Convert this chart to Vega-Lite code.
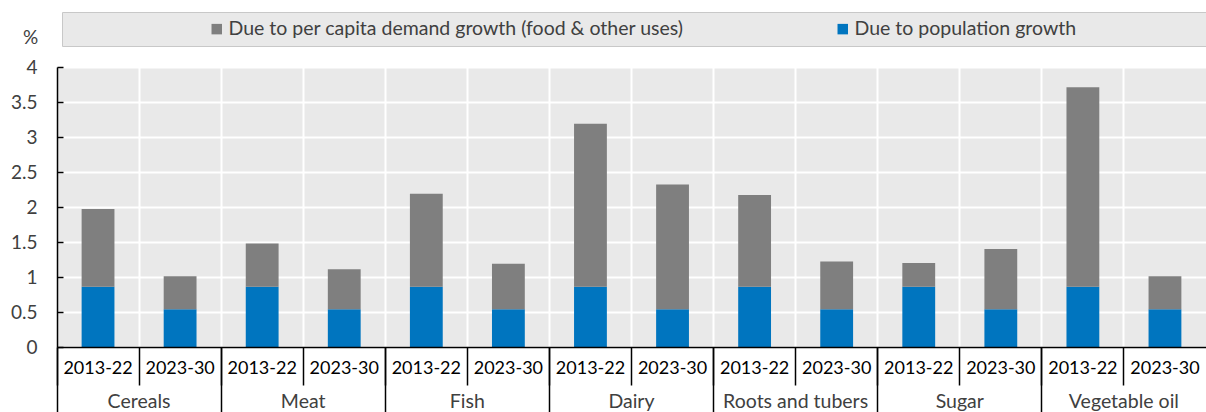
{
  "$schema": "https://vega.github.io/schema/vega-lite/v6.json",
  "width": 1149,
  "height": 280,
  "autosize": {"type": "none"},
  "padding": {"left": 57, "top": 67, "right": 0, "bottom": 65},
  "background": "#ffffff",
  "config": {
    "view": {"fill": "#e9e9e9", "stroke": null},
    "font": "Lato",
    "axis": {"labelFont": "Lato", "titleFont": "Lato"},
    "legend": {"labelFont": "Lato", "titleFont": "Lato"}
  },
  "data": {
    "values": [
      {"key": "Cereals|2013-22", "series": "Due to population growth", "value": 0.86},
      {"key": "Cereals|2013-22", "series": "Due to per capita demand growth (food & other uses)", "value": 1.11},
      {"key": "Cereals|2023-30", "series": "Due to population growth", "value": 0.54},
      {"key": "Cereals|2023-30", "series": "Due to per capita demand growth (food & other uses)", "value": 0.47},
      {"key": "Meat|2013-22", "series": "Due to population growth", "value": 0.86},
      {"key": "Meat|2013-22", "series": "Due to per capita demand growth (food & other uses)", "value": 0.62},
      {"key": "Meat|2023-30", "series": "Due to population growth", "value": 0.54},
      {"key": "Meat|2023-30", "series": "Due to per capita demand growth (food & other uses)", "value": 0.57},
      {"key": "Fish|2013-22", "series": "Due to population growth", "value": 0.86},
      {"key": "Fish|2013-22", "series": "Due to per capita demand growth (food & other uses)", "value": 1.33},
      {"key": "Fish|2023-30", "series": "Due to population growth", "value": 0.54},
      {"key": "Fish|2023-30", "series": "Due to per capita demand growth (food & other uses)", "value": 0.65},
      {"key": "Dairy|2013-22", "series": "Due to population growth", "value": 0.86},
      {"key": "Dairy|2013-22", "series": "Due to per capita demand growth (food & other uses)", "value": 2.33},
      {"key": "Dairy|2023-30", "series": "Due to population growth", "value": 0.54},
      {"key": "Dairy|2023-30", "series": "Due to per capita demand growth (food & other uses)", "value": 1.78},
      {"key": "Roots and tubers|2013-22", "series": "Due to population growth", "value": 0.86},
      {"key": "Roots and tubers|2013-22", "series": "Due to per capita demand growth (food & other uses)", "value": 1.31},
      {"key": "Roots and tubers|2023-30", "series": "Due to population growth", "value": 0.54},
      {"key": "Roots and tubers|2023-30", "series": "Due to per capita demand growth (food & other uses)", "value": 0.68},
      {"key": "Sugar|2013-22", "series": "Due to population growth", "value": 0.86},
      {"key": "Sugar|2013-22", "series": "Due to per capita demand growth (food & other uses)", "value": 0.34},
      {"key": "Sugar|2023-30", "series": "Due to population growth", "value": 0.54},
      {"key": "Sugar|2023-30", "series": "Due to per capita demand growth (food & other uses)", "value": 0.86},
      {"key": "Vegetable oil|2013-22", "series": "Due to population growth", "value": 0.86},
      {"key": "Vegetable oil|2013-22", "series": "Due to per capita demand growth (food & other uses)", "value": 2.85},
      {"key": "Vegetable oil|2023-30", "series": "Due to population growth", "value": 0.54},
      {"key": "Vegetable oil|2023-30", "series": "Due to per capita demand growth (food & other uses)", "value": 0.47}
    ]
  },
  "layer": [
    {
      "mark": {"type": "bar", "width": {"band": 0.4}},
      "encoding": {
        "x": {
          "field": "key",
          "type": "nominal",
          "sort": null,
          "scale": {"paddingInner": 0, "paddingOuter": 0},
          "axis": {
            "title": null,
            "orient": "bottom",
            "labelExpr": "split(datum.value, '|')[1]",
            "labelAngle": 0,
            "labelFontSize": 18,
            "labelColor": "#000000",
            "labelBaseline": "middle",
            "labelPadding": -17,
            "ticks": true,
            "tickSize": 38,
            "tickColor": "#000000",
            "tickWidth": 1.5,
            "bandPosition": 0,
            "domainColor": "#000000",
            "domainWidth": 1.5,
            "grid": true,
            "gridColor": "#ffffff",
            "gridWidth": 2,
            "gridOpacity": {"condition": {"test": "datum.value === 'Cereals|2013-22'", "value": 0}, "value": 1},
            "labelOverlap": false,
            "zindex": 1
          }
        },
        "y": {
          "field": "value",
          "type": "quantitative",
          "stack": "zero",
          "scale": {"domain": [0, 4]},
          "axis": {
            "title": "%",
            "titleAngle": 0,
            "titleX": -27,
            "titleY": -30,
            "titleAlign": "center",
            "titleBaseline": "middle",
            "titleFontSize": 19,
            "titleFontWeight": "normal",
            "titleColor": "#404040",
            "values": [0, 0.5, 1, 1.5, 2, 2.5, 3, 3.5, 4],
            "format": "~g",
            "labelFontSize": 19,
            "labelColor": "#404040",
            "labelPadding": 26,
            "tickSize": -6,
            "tickColor": "#000000",
            "tickWidth": 1.5,
            "domainColor": "#000000",
            "domainWidth": 1.5,
            "grid": true,
            "gridColor": "#ffffff",
            "gridWidth": 2
          }
        },
        "color": {
          "field": "series",
          "type": "nominal",
          "scale": {
            "domain": ["Due to per capita demand growth (food & other uses)", "Due to population growth"],
            "range": ["#7f7f7f", "#0075bf"]
          },
          "legend": {
            "title": "\u00a0",
            "titleOrient": "left",
            "titlePadding": 138,
            "orient": "none",
            "legendX": 5,
            "legendY": -55,
            "direction": "horizontal",
            "columns": 2,
            "columnPadding": 149,
            "labelFontSize": 19.5,
            "labelColor": "#404040",
            "labelLimit": 900,
            "labelExpr": "datum.value === 'Due to population growth' ? datum.label + '\u00a0\u00a0\u00a0\u00a0\u00a0\u00a0\u00a0\u00a0\u00a0\u00a0\u00a0\u00a0\u00a0\u00a0\u00a0\u00a0\u00a0\u00a0\u00a0\u00a0\u00a0\u00a0\u2800' : datum.label",
            "symbolType": "square",
            "symbolSize": 110,
            "symbolStrokeWidth": 0,
            "labelOffset": 2,
            "fillColor": "#e9e9e9",
            "strokeColor": "#c8c8c8",
            "padding": 7
          }
        },
        "order": {"field": "series", "sort": "descending"}
      }
    },
    {
      "mark": {"type": "bar", "opacity": 0},
      "encoding": {
        "x": {
          "field": "key",
          "type": "nominal",
          "sort": null,
          "axis": {
            "title": null,
            "orient": "bottom",
            "values": ["Cereals|2013-22", "Meat|2013-22", "Fish|2013-22", "Dairy|2013-22", "Roots and tubers|2013-22", "Sugar|2013-22", "Vegetable oil|2013-22"],
            "labelExpr": "split(datum.value, '|')[0]",
            "labelAngle": 0,
            "labelFontSize": 19.5,
            "labelColor": "#404040",
            "labelBaseline": "middle",
            "labelPadding": -11,
            "labelOffset": 41,
            "labelOverlap": false,
            "ticks": true,
            "tickSize": 65,
            "tickColor": "#000000",
            "tickWidth": 1.5,
            "bandPosition": 0,
            "domain": false,
            "grid": false,
            "zindex": 1
          }
        }
      }
    }
  ],
  "resolve": {"axis": {"x": "independent"}}
}
